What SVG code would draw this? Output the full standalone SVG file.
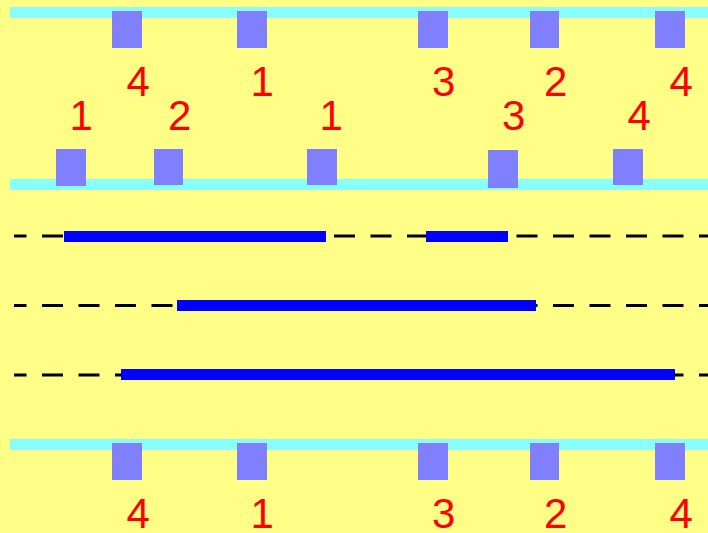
<svg xmlns="http://www.w3.org/2000/svg" width="708" height="533" viewBox="0 0 708 533">
<style>
.rail{fill:#88FFFF}
.sq{fill:#8080FF}
.lbl{fill:#FF0000;font-family:"Liberation Sans",Arial,sans-serif;font-size:42px}
.dash{stroke:#000;stroke-width:3;stroke-dasharray:21 15.5;stroke-dashoffset:8.5;fill:none}
.bar{fill:#0000FF}
</style>
<rect width="708" height="533" fill="#FFFF88"/>
<g id="rail-top"><rect class="rail" x="10" y="7" width="698" height="11"/></g>
<g id="rail-mid"><rect class="rail" x="10" y="179" width="698" height="11"/></g>
<g id="rail-bot"><rect class="rail" x="10" y="439" width="698" height="11"/></g>
<g id="top-nodes">
<g id="t1"><rect class="sq" x="112" y="11" width="30" height="37"/><text class="lbl" x="126.5" y="96">4</text></g>
<g id="t2"><rect class="sq" x="237" y="11" width="30" height="37"/><text class="lbl" x="250.5" y="96">1</text></g>
<g id="t3"><rect class="sq" x="418" y="11" width="30" height="37"/><text class="lbl" x="432" y="96">3</text></g>
<g id="t4"><rect class="sq" x="530" y="11" width="29" height="37"/><text class="lbl" x="544" y="96">2</text></g>
<g id="t5"><rect class="sq" x="655" y="11" width="30" height="37"/><text class="lbl" x="669.5" y="96">4</text></g>
</g>
<g id="mid-nodes">
<g id="m1"><rect class="sq" x="56" y="149" width="30" height="37"/><text class="lbl" x="69.5" y="130">1</text></g>
<g id="m2"><rect class="sq" x="154" y="149" width="29" height="36"/><text class="lbl" x="168" y="130">2</text></g>
<g id="m3"><rect class="sq" x="307" y="149" width="30" height="36"/><text class="lbl" x="319.5" y="130">1</text></g>
<g id="m4"><rect class="sq" x="488" y="150" width="30" height="38"/><text class="lbl" x="502" y="130">3</text></g>
<g id="m5"><rect class="sq" x="613" y="149" width="30" height="36"/><text class="lbl" x="627.5" y="130">4</text></g>
</g>
<g id="bot-nodes">
<g id="b1"><rect class="sq" x="112" y="443" width="30" height="37"/><text class="lbl" x="126.5" y="528">4</text></g>
<g id="b2"><rect class="sq" x="237" y="443" width="30" height="37"/><text class="lbl" x="250.5" y="528">1</text></g>
<g id="b3"><rect class="sq" x="418" y="443" width="30" height="37"/><text class="lbl" x="432" y="528">3</text></g>
<g id="b4"><rect class="sq" x="530" y="443" width="29" height="37"/><text class="lbl" x="544" y="528">2</text></g>
<g id="b5"><rect class="sq" x="655" y="443" width="30" height="37"/><text class="lbl" x="669.5" y="528">4</text></g>
</g>
<g id="connectors">
<line class="dash" x1="14" y1="236" x2="708" y2="236"/>
<line class="dash" x1="14" y1="305.5" x2="708" y2="305.5"/>
<line class="dash" x1="14" y1="375" x2="708" y2="375"/>
<rect class="bar" x="64" y="231" width="262" height="11"/>
<rect class="bar" x="426" y="231" width="82" height="11"/>
<rect class="bar" x="177" y="300" width="359" height="11"/>
<rect class="bar" x="121" y="369" width="554" height="11"/>
</g>
</svg>
